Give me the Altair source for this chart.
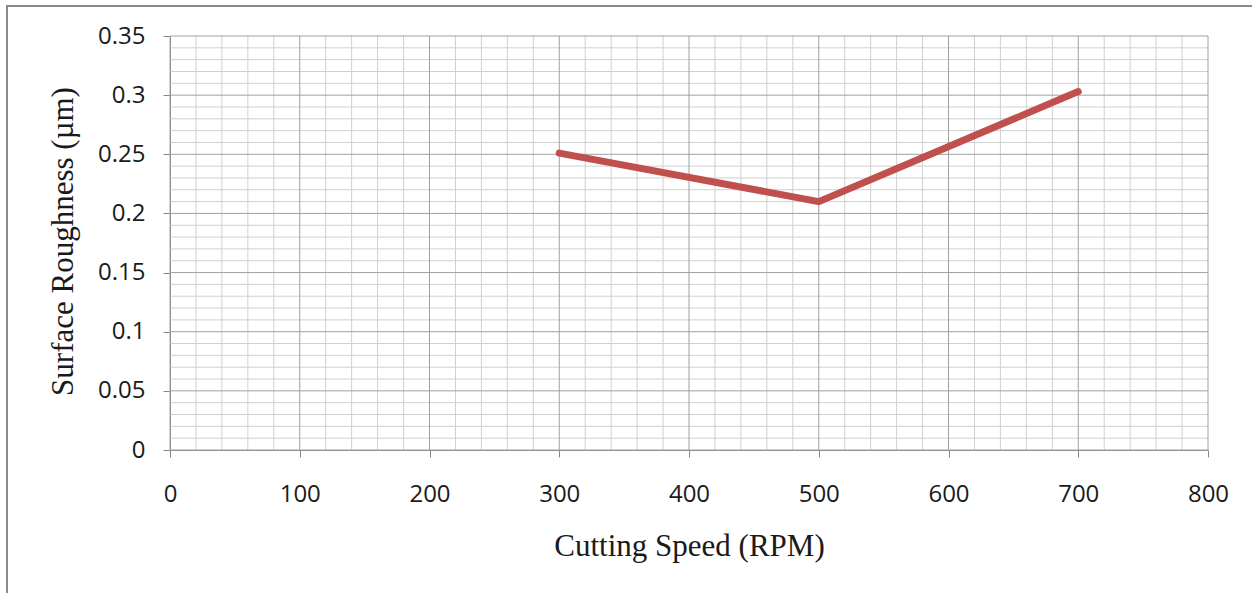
import altair as alt
import pandas as pd

# data
speed = [300, 500, 700]
roughness = [0.251, 0.210, 0.303]

x_major = [0, 100, 200, 300, 400, 500, 600, 700, 800]
y_major = [0, 0.05, 0.1, 0.15, 0.2, 0.25, 0.3, 0.35]
x_minor = [v for v in range(0, 801, 20) if v % 100 != 0]
y_minor = [0.01, 0.02, 0.03, 0.04, 0.06, 0.07, 0.08, 0.09, 0.11, 0.12, 0.13, 0.14,
           0.16, 0.17, 0.18, 0.19, 0.21, 0.22, 0.23, 0.24, 0.26, 0.27, 0.28, 0.29,
           0.31, 0.32, 0.33, 0.34]

W, H = 1038, 414

xs = alt.Scale(domain=[0, 800], nice=False, zero=True)
ys = alt.Scale(domain=[0, 0.35], nice=False, zero=True)

x_axis = alt.Axis(values=x_major, grid=False, format="d", title="Cutting Speed (RPM)",
                  labelFont="Open Sans", labelFontSize=24, labelColor="#1a1a1a",
                  labelBaseline="alphabetic", labelPadding=44, labelFlush=False,
                  tickSize=7, tickColor="#868686", domainColor="#868686",
                  titleFont="Liberation Serif", titleFontSize=31, titleFontWeight="normal",
                  titleColor="#1a1a1a", titleBaseline="alphabetic", titleY=105)
y_axis = alt.Axis(values=y_major, grid=False, format="~g", title="Surface Roughness (µm)",
                  labelFont="Open Sans", labelFontSize=24, labelColor="#1a1a1a",
                  labelBaseline="middle", labelPadding=18, labelFlush=False,
                  tickSize=7, tickColor="#868686", domainColor="#868686",
                  titleFont="Liberation Serif", titleFontSize=31, titleFontWeight="normal",
                  titleColor="#1a1a1a", titleAngle=270, titleBaseline="alphabetic",
                  titleX=-98, titleY=H / 2 - 2, titleAlign="center")

line_df = pd.DataFrame({"speed": speed, "roughness": roughness})

minor_x = alt.Chart(pd.DataFrame({"speed": x_minor})).mark_rule(color="#d0d0d0", strokeWidth=1).encode(
    x=alt.X("speed:Q", scale=xs, axis=x_axis))
minor_y = alt.Chart(pd.DataFrame({"roughness": y_minor})).mark_rule(color="#d0d0d0", strokeWidth=1).encode(
    y=alt.Y("roughness:Q", scale=ys, axis=y_axis))
major_x = alt.Chart(pd.DataFrame({"speed": x_major})).mark_rule(color="#a0a0a0", strokeWidth=1).encode(
    x=alt.X("speed:Q", scale=xs, axis=x_axis))
major_y = alt.Chart(pd.DataFrame({"roughness": y_major})).mark_rule(color="#a0a0a0", strokeWidth=1).encode(
    y=alt.Y("roughness:Q", scale=ys, axis=y_axis))

frame = alt.Chart(pd.DataFrame({"a": [0]})).mark_rect(
    fill=None, stroke="#8a8a8a", strokeWidth=2).encode(
    x=alt.value(-163), x2=alt.value(W + 200), y=alt.value(-30), y2=alt.value(H + 300))

line = alt.Chart(line_df).mark_line(
    color="#C0504D", strokeWidth=7, strokeCap="round", strokeJoin="miter").encode(
    x=alt.X("speed:Q", scale=xs, axis=x_axis),
    y=alt.Y("roughness:Q", scale=ys, axis=y_axis),
)

chart = alt.layer(minor_x, minor_y, major_x, major_y, line, frame).properties(
    width=W, height=H,
    autosize=alt.AutoSizeParams(type="none"),
    padding={"left": 170, "top": 36, "right": 44, "bottom": 143},
    background="white",
).configure_view(stroke=None)

chart.save("out.html", embed_options={"renderer": "svg", "actions": False})
